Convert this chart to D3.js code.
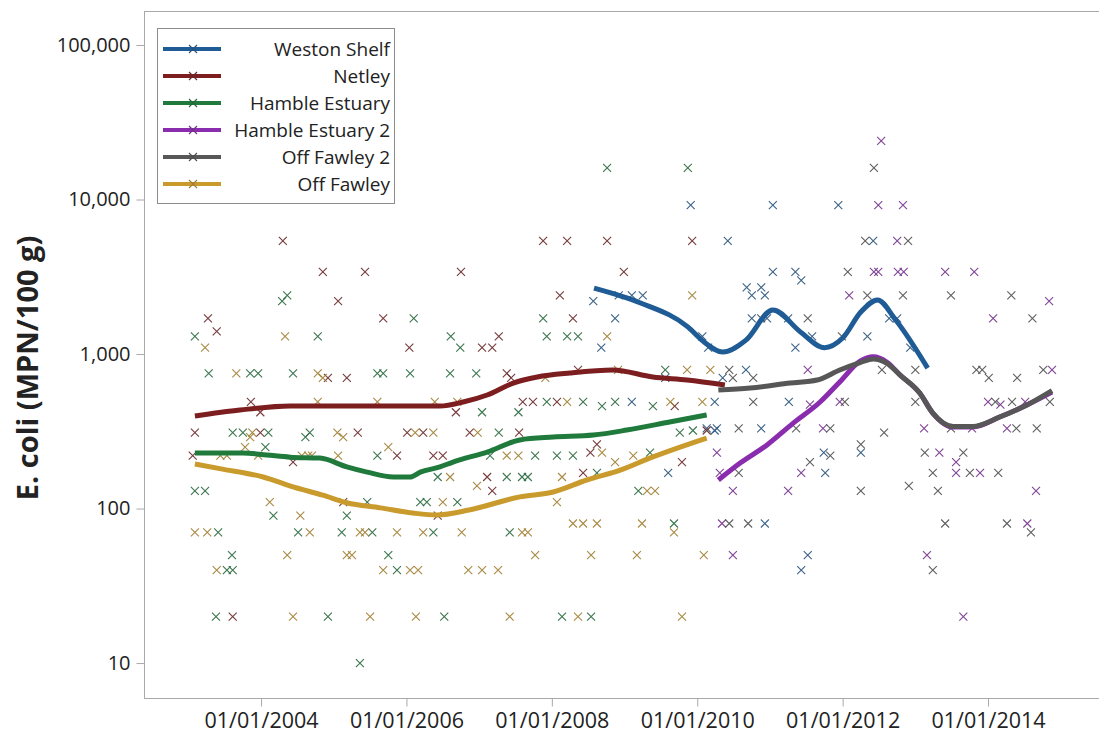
<!DOCTYPE html>
<html>
<head>
<meta charset="utf-8">
<script src="https://cdn.jsdelivr.net/npm/d3@7"></script>
<style>
  html, body { margin: 0; padding: 0; background: #fff; }
  svg { display: block; }
  text { font-family: "Open Sans", "Noto Sans", sans-serif; fill: #222; }
</style>
</head>
<body>
<svg id="chart" width="1099" height="733"></svg>
<script>
// ---------------- DATA ----------------
const seriesNames = ["Weston Shelf", "Netley", "Hamble Estuary", "Hamble Estuary 2", "Off Fawley 2", "Off Fawley"];
const seriesColors = ["#1f5c96", "#7c1d1f", "#1f7a3c", "#8a2cae", "#575757", "#c99a2c"];

const xTickValues = [2004, 2006, 2008, 2010, 2012, 2014];
const xTickLabels = ["01/01/2004", "01/01/2006", "01/01/2008", "01/01/2010", "01/01/2012", "01/01/2014"];
const yTickValues = [10, 100, 1000, 10000, 100000];
const yTickLabels = ["10", "100", "1,000", "10,000", "100,000"];
const yTitle = "E. coli (MPN/100 g)";

// observations: [decimal year, E. coli MPN/100 g]
const westonPts = [[2009.91,9200],[2008.92,2400],[2009.10,2400],[2009.25,2400],[2008.57,2200],[2008.87,1700],[2008.68,1100],
  [2010.07,1300],[2010.15,1100],[2009.56,700],[2009.10,490],[2010.24,490],[2010.24,320],[2009.60,170],[2011.04,9200],
  [2011.94,9200],[2010.42,5400],[2012.42,5400],[2011.04,3400],[2011.35,3400],[2011.43,3000],[2010.68,2700],[2010.75,2400],
  [2010.88,2700],[2010.93,2400],[2010.75,1700],[2010.96,1700],[2011.25,1700],[2012.64,1700],[2012.75,1700],[2011.35,1100],
  [2011.58,1300],[2012.34,1300],[2012.93,1100],[2010.35,700],[2010.67,790],[2011.26,490],[2010.13,330],[2010.27,330],
  [2010.88,330],[2011.74,230],[2012.25,230],[2011.76,170],[2010.93,80],[2011.52,50],[2011.43,40]];

const netleyPts = [[2003.27,1700],[2003.39,1400],[2004.30,5400],[2004.92,700],[2004.85,3400],[2005.06,2200],[2005.18,700],
  [2005.43,3400],[2003.86,490],[2003.99,420],[2005.68,1700],[2006.04,1100],[2003.09,310],[2003.99,310],[2005.33,310],
  [2006.01,310],[2006.23,310],[2003.06,220],[2004.44,200],[2005.87,220],[2006.37,220],[2005.13,110],[2006.43,90],
  [2003.61,20],[2007.88,5400],[2008.21,5400],[2008.76,5400],[2009.93,5400],[2006.75,3400],[2008.99,3400],[2008.11,2400],
  [2008.29,1700],[2007.04,1100],[2007.18,1100],[2007.27,1300],[2007.38,750],[2007.44,700],[2008.36,790],[2006.68,420],
  [2007.60,490],[2007.74,490],[2008.07,490],[2009.69,460],[2006.87,310],[2007.55,310],[2008.62,260],[2010.13,320],
  [2006.50,220],[2008.53,230],[2009.79,200],[2007.11,160],[2007.18,130],[2008.43,170]];

const hambleEstPts = [[2003.09,1300],[2003.28,750],[2003.85,750],[2003.96,750],[2004.36,2400],[2004.29,2200],[2004.44,750],
  [2004.78,1300],[2005.60,750],[2006.10,1700],[2005.68,750],[2006.05,750],[2003.61,310],[2003.75,310],[2004.10,310],
  [2004.61,290],[2004.67,310],[2004.06,250],[2005.60,220],[2003.09,130],[2003.23,130],[2004.17,90],[2005.18,90],
  [2005.46,110],[2006.19,110],[2006.28,110],[2003.41,70],[2004.51,70],[2005.11,70],[2005.53,70],[2006.37,70],
  [2003.60,50],[2005.75,50],[2003.53,40],[2003.61,40],[2005.87,40],[2003.38,20],[2004.92,20],[2006.52,20],[2005.36,10],
  [2008.76,16000],[2009.87,16000],[2007.88,1700],[2006.61,1300],[2006.74,1100],[2007.93,1300],[2008.21,1300],
  [2008.36,1300],[2006.60,750],[2006.96,750],[2009.56,790],[2007.04,420],[2007.54,420],[2007.93,490],[2008.43,490],
  [2008.69,460],[2008.87,490],[2009.39,460],[2007.27,310],[2009.76,310],[2009.94,320],[2007.15,220],[2007.77,220],
  [2008.07,220],[2008.29,220],[2009.35,230],[2006.43,160],[2007.38,160],[2007.59,160],[2007.67,160],[2008.62,170],
  [2006.70,110],[2009.19,130],[2007.42,70],[2009.68,80],[2008.14,20],[2008.54,20]];

const hambleEst2Pts = [[2012.53,24000],[2012.49,9200],[2012.83,9200],[2012.75,5400],[2012.43,3400],[2012.49,3400],
  [2012.76,3400],[2012.84,3400],[2013.41,3400],[2013.81,3400],[2012.09,2400],[2014.84,2200],[2014.07,1700],[2011.52,790],
  [2014.88,790],[2011.55,470],[2011.96,490],[2014.00,490],[2014.17,470],[2014.51,490],[2011.73,330],[2013.12,330],
  [2013.78,330],[2014.26,330],[2010.27,230],[2013.33,230],[2013.56,200],[2010.31,170],[2011.43,170],[2013.56,170],
  [2013.89,170],[2010.49,130],[2011.25,130],[2014.66,130],[2010.34,80],[2014.54,80],[2010.49,50],[2013.16,50],[2013.66,20]];

const offFawley2Pts = [[2012.43,16000],[2012.31,5400],[2012.90,5400],[2012.07,3400],[2012.34,2400],[2012.83,2400],
  [2013.49,2400],[2014.32,2400],[2010.88,1700],[2011.52,1700],[2014.61,1700],[2011.99,1300],[2010.44,790],[2010.49,700],
  [2010.77,700],[2012.54,790],[2013.00,790],[2013.84,790],[2013.92,790],[2014.01,700],[2014.40,700],[2014.76,790],
  [2010.77,490],[2012.03,490],[2013.00,490],[2014.10,490],[2014.33,490],[2014.85,490],[2010.57,330],[2011.36,330],
  [2011.83,330],[2012.57,310],[2013.49,330],[2014.39,330],[2014.67,330],[2011.55,200],[2011.83,220],[2012.25,260],
  [2013.13,230],[2013.66,230],[2010.57,170],[2013.24,170],[2013.75,170],[2014.14,170],[2012.25,130],[2012.91,140],
  [2013.31,130],[2010.44,80],[2010.70,80],[2013.41,80],[2014.26,80],[2014.59,70],[2013.24,40]];

const offFawleyPts = [[2003.23,1100],[2003.66,750],[2004.33,1300],[2004.78,750],[2004.85,700],[2004.78,490],[2005.60,490],
  [2006.39,490],[2003.88,310],[2003.85,290],[2005.05,310],[2005.13,290],[2006.12,310],[2006.37,310],[2003.44,220],
  [2003.53,220],[2003.78,250],[2003.96,220],[2004.56,220],[2004.65,220],[2004.70,220],[2005.06,220],[2005.75,250],
  [2004.12,110],[2004.54,90],[2003.09,70],[2003.26,70],[2004.67,70],[2005.36,70],[2005.43,70],[2005.87,70],[2006.23,70],
  [2004.36,50],[2005.18,50],[2005.25,50],[2003.39,40],[2005.68,40],[2006.05,40],[2006.16,40],[2004.44,20],[2005.50,20],
  [2006.13,20],[2009.93,2400],[2008.76,1300],[2007.91,700],[2008.91,790],[2009.86,790],[2010.18,790],[2006.70,490],
  [2008.21,490],[2009.63,490],[2010.07,490],[2006.98,310],[2007.38,220],[2007.54,220],[2008.69,230],[2008.87,200],
  [2009.12,220],[2006.60,160],[2006.97,140],[2008.14,160],[2006.50,110],[2008.07,110],[2009.31,130],[2009.42,130],
  [2006.76,70],[2007.59,70],[2007.67,70],[2008.29,80],[2008.43,80],[2008.62,80],[2009.24,80],[2009.68,70],[2007.77,50],
  [2008.54,50],[2009.17,50],[2010.09,50],[2006.85,40],[2007.04,40],[2007.26,40],[2007.42,20],[2008.36,20],[2009.79,20]];

// smoothed fits: [decimal year, value]
const westonFit = [[2008.58,2670],[2009.22,2140],[2009.87,1500],[2010.09,1200],[2010.35,1030],[2010.67,1230],[2011.04,1930],
  [2011.42,1390],[2011.75,1100],[2012.0,1270],[2012.25,1870],[2012.48,2240],[2012.73,1660],[2013.17,810]];
const netleyFit = [[2003.09,397],[2003.71,434],[2004.40,461],[2006.46,461],[2006.78,489],[2007.11,543],[2007.47,649],
  [2007.80,710],[2008.25,754],[2008.84,788],[2009.39,710],[2009.86,679],[2010.38,630]];
const hambleEstFit = [[2003.09,229],[2003.75,229],[2004.08,222],[2004.40,215],[2004.81,212],[2005.18,186],[2005.46,172],
  [2005.82,160],[2006.05,160],[2006.19,172],[2006.46,186],[2006.64,200],[2007.11,232],[2007.56,278],[2008.02,290],
  [2008.57,299],[2009.03,322],[2009.62,363],[2010.13,403]];
const hambleEst2Fit = [[2010.29,153],[2010.59,197],[2010.96,258],[2011.32,357],[2011.69,489],[2011.96,659],[2012.24,900],
  [2012.42,960],[2012.61,885],[2012.79,731],[2013.06,559],[2013.24,415],[2013.52,337],[2013.79,337],[2014.16,391],
  [2014.53,467],[2014.88,567]];
const offFawley2Fit = [[2010.29,585],[2010.73,603],[2011.28,649],[2011.65,679],[2011.96,788],[2012.24,880],[2012.42,930],
  [2012.61,870],[2012.79,731],[2013.06,559],[2013.24,415],[2013.52,340],[2013.79,340],[2014.16,391],[2014.53,467],
  [2014.88,580]];
const offFawleyFit = [[2003.09,194],[2003.47,180],[2004.03,160],[2004.44,138],[2004.85,122],[2005.18,109],[2005.64,101],
  [2006.09,93.5],[2006.42,90.8],[2006.86,97.8],[2007.56,119],[2008.02,128],[2008.48,153],[2008.94,177],[2009.38,215],
  [2010.13,286]];

const seriesPts = [westonPts, netleyPts, hambleEstPts, hambleEst2Pts, offFawley2Pts, offFawleyPts];
const seriesFits = [westonFit, netleyFit, hambleEstFit, hambleEst2Fit, offFawley2Fit, offFawleyFit];

// ---------------- LAYOUT ----------------
const xDomain = [2002.39, 2015.54];
const yDomain = [5.94, 166000];
const plot = { left: 144, right: 1100, top: 11, bottom: 698 };

const svg = d3.select("#chart");
const x = d3.scaleLinear().domain(xDomain).range([plot.left, plot.right]);
const y = d3.scaleLog().domain(yDomain).range([plot.bottom, plot.top]);

// frame
svg.append("rect")
  .attr("x", plot.left + 0.5).attr("y", plot.top + 0.5)
  .attr("width", plot.right - plot.left).attr("height", plot.bottom - plot.top)
  .attr("fill", "none").attr("stroke", "#a9a9a9").attr("stroke-width", 1);

// axes
const yAxis = d3.axisLeft(y).tickValues(yTickValues)
  .tickFormat((d, i) => yTickLabels[i]).tickSizeOuter(0).tickSize(8).tickPadding(6);
const gy = svg.append("g").attr("transform", `translate(${plot.left + 0.5},0)`).call(yAxis);
gy.select(".domain").remove();
gy.selectAll("line").attr("stroke", "#a9a9a9");
gy.selectAll("text").style("font-size", "20px").attr("fill", "#222");

const xAxis = d3.axisBottom(x).tickValues(xTickValues)
  .tickFormat((d, i) => xTickLabels[i]).tickSizeOuter(0).tickSize(8).tickPadding(6);
const gx = svg.append("g").attr("transform", `translate(0,${plot.bottom + 0.5})`).call(xAxis);
gx.select(".domain").remove();
gx.selectAll("line").attr("stroke", "#a9a9a9");
gx.selectAll("text").style("font-size", "21.5px").attr("fill", "#222");

// y title
svg.append("text")
  .attr("transform", `translate(38,368) rotate(-90)`)
  .attr("text-anchor", "middle")
  .style("font-size", "29px").style("font-weight", "bold")
  .text(yTitle);

// markers
const xMark = "M-4,-4L4,4M-4,4L4,-4";
const markColor = c => d3.interpolateRgb(c, "#3a3a3a")(0.3);
const gPts = svg.append("g");
seriesPts.forEach((pts, si) => {
  gPts.selectAll(null).data(pts).enter().append("path")
    .attr("d", xMark)
    .attr("transform", d => `translate(${x(d[0])},${y(d[1])})`)
    .attr("fill", "none")
    .attr("stroke", markColor(seriesColors[si]))
    .attr("stroke-width", 1.1)
    .attr("opacity", 0.9);
});

// fit lines
const line = d3.line().x(d => x(d[0])).y(d => y(d[1])).curve(d3.curveMonotoneX);
const drawOrder = [0, 1, 2, 5, 3, 4];
drawOrder.forEach(si => {
  svg.append("path")
    .attr("d", line(seriesFits[si]))
    .attr("fill", "none")
    .attr("stroke", seriesColors[si])
    .attr("stroke-width", 5)
    .attr("stroke-linejoin", "round");
});

// legend
const lg = svg.append("g");
lg.append("rect").attr("x", 157.5).attr("y", 28.5).attr("width", 237).attr("height", 175)
  .attr("fill", "#fff").attr("stroke", "#8c8c8c").attr("stroke-width", 1);
seriesNames.forEach((name, i) => {
  const cy = 49 + i * 27;
  lg.append("line").attr("x1", 163).attr("x2", 221).attr("y1", cy).attr("y2", cy)
    .attr("stroke", seriesColors[i]).attr("stroke-width", 4);
  lg.append("path").attr("d", xMark).attr("transform", `translate(193,${cy})`)
    .attr("fill", "none").attr("stroke", markColor(seriesColors[i])).attr("stroke-width", 1.1);
  lg.append("text").attr("x", 390).attr("y", cy).attr("dy", "0.35em")
    .attr("text-anchor", "end").style("font-size", "19px").text(name);
});
</script>
</body>
</html>
